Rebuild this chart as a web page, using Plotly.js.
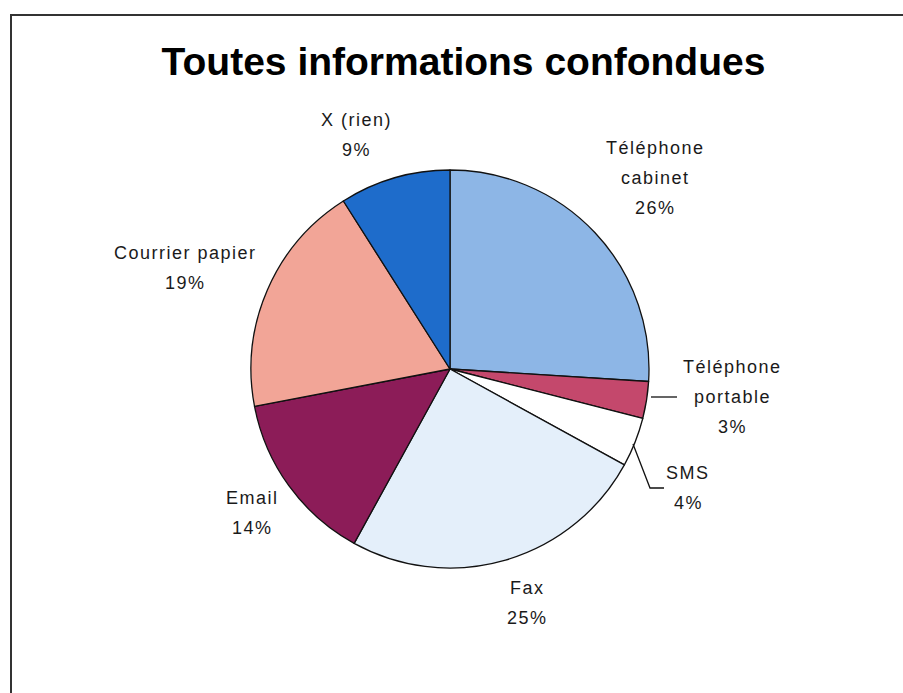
<!DOCTYPE html>
<html>
<head>
<meta charset="utf-8">
<script src="https://cdn.plot.ly/plotly-3.0.1.min.js"></script>
<style>
  html, body { margin: 0; padding: 0; background: #fff; }
  #chart { width: 903px; height: 693px; }
  .annotation-text { letter-spacing: 1.5px; }
</style>
</head>
<body>
<div id="chart"></div>
<script>
// ---- Data ----
const categories = ['Téléphone<br>cabinet', 'Téléphone<br>portable', 'SMS', 'Fax', 'Email', 'Courrier papier', 'X (rien)'];
const values = [26, 3, 4, 25, 14, 19, 9];
const sliceColors = ['#8DB6E6', '#C4486C', '#FFFFFF', '#E4EFFA', '#8C1C58', '#F2A597', '#1E6CCB'];
const chartTitle = 'Toutes informations confondues';

// ---- Layout helpers (pixel -> paper) ----
const W = 903, H = 693;
const px = x => x / W;
const py = y => 1 - y / H;

// label block positions (first-line centre, pixels) and line spacing
const labelPos = [
  [655, 148], [732, 367], [688, 473], [527, 588], [252, 498], [185, 253], [356, 120]
];
const lineGap = 30;

const total = values.reduce((a, b) => a + b, 0);
const annotations = [];
categories.forEach((c, i) => {
  const lines = c.split('<br>').concat([Math.round(values[i] / total * 100) + '%']);
  lines.forEach((t, k) => {
    annotations.push({
      xref: 'paper', yref: 'paper',
      x: px(labelPos[i][0]), y: py(labelPos[i][1] + k * lineGap),
      xanchor: 'center', yanchor: 'middle',
      text: t, showarrow: false,
      font: {family: 'Liberation Sans, Arial, sans-serif', size: 18, color: '#1a1a1a'}
    });
  });
});

const trace = {
  type: 'pie',
  labels: categories.map(c => c.replace('<br>', ' ')),
  values: values,
  sort: false,
  direction: 'clockwise',
  rotation: 0,
  textinfo: 'none',
  hoverinfo: 'label+percent',
  marker: {colors: sliceColors, line: {color: '#111', width: 1.3}},
  domain: {x: [px(251), px(649)], y: [py(569), py(169)]},
  showlegend: false
};

const layout = {
  width: W, height: H,
  margin: {l: 0, r: 0, t: 0, b: 0},
  paper_bgcolor: '#ffffff',
  title: {
    text: chartTitle,
    x: px(463.5), xanchor: 'center', xref: 'paper',
    y: 1 - 61 / H, yanchor: 'middle', yref: 'container',
    font: {family: 'Liberation Sans, Arial, sans-serif', size: 39, weight: 700, color: '#000'}
  },
  annotations: annotations,
  shapes: [
    {type: 'rect', xref: 'paper', yref: 'paper', x0: px(11), x1: 1.05, y0: -0.05, y1: py(15),
     line: {color: '#333', width: 2}, fillcolor: 'rgba(0,0,0,0)', layer: 'below'},
    {type: 'line', xref: 'paper', yref: 'paper', x0: px(651), y0: py(397), x1: px(677), y1: py(397),
     line: {color: '#111', width: 1.3}},
    {type: 'path', xref: 'paper', yref: 'paper',
     path: 'M ' + px(633) + ',' + py(444) + ' L ' + px(650) + ',' + py(488) + ' L ' + px(664) + ',' + py(488),
     line: {color: '#111', width: 1.3}}
  ]
};

Plotly.newPlot('chart', [trace], layout, {displayModeBar: false, staticPlot: true});
</script>
</body>
</html>
